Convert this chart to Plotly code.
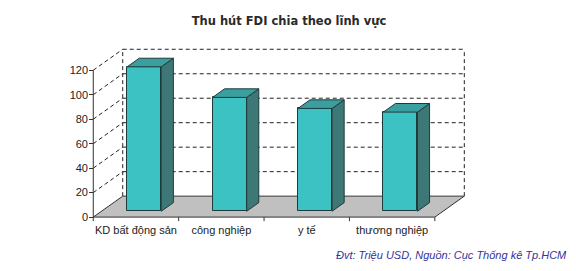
import plotly.graph_objects as go

# ---- data ----
categories = ["KD bất động sản", "công nghiệp", "y tế", "thương nghiệp"]
values = [118, 93, 84, 81]
y_ticks = [0, 20, 40, 60, 80, 100, 120]
title_text = "Thu hút FDI chia theo lĩnh vực"
source_text = "Đvt: Triệu USD, Nguồn: Cục Thống kê Tp.HCM"

# ---- geometry (pixel calibration of the axes) ----
W, H = 576, 271
PX_X0, SX = 93.0, 85.5      # px of x=0, px per category
PX_Y0, SY = 217.0, 1.225    # px of y=0, px per unit
XR = [-0.05, 4.4]
YR = [-4, 139]
DX = 29.5 / SX              # depth offset in x units
DY = 21.0 / SY              # depth offset in y units
YMAX = 120
BAR_F = 0.28                # depth position of bar front face
BAR_D = 0.41                # bar depth fraction
BAR_W = 0.4

ml = PX_X0 + XR[0] * SX
mr = W - (PX_X0 + XR[1] * SX)
mt = PX_Y0 - YR[1] * SY
mb = H - (PX_Y0 - YR[0] * SY)

FRONT = "#3DC2C4"
SIDE = "#3E7876"
TOP = "#3A9F9E"
EDGE = "#1E3B3B"
DASH = "4px,3px"
LINE = "#222222"

shapes = []
ncat = len(categories)

# back wall gridlines (dashed) + outline
for v in y_ticks[1:]:
    shapes.append(dict(type="line", x0=DX, x1=ncat + DX, y0=v + DY, y1=v + DY,
                       line=dict(color=LINE, width=1, dash=DASH), layer="below"))
    # left wall diagonals
    shapes.append(dict(type="line", x0=0, x1=DX, y0=v, y1=v + DY,
                       line=dict(color=LINE, width=1, dash=DASH), layer="below"))
shapes.append(dict(type="line", x0=DX, x1=DX, y0=DY, y1=YMAX + DY,
                   line=dict(color=LINE, width=1, dash=DASH), layer="below"))
shapes.append(dict(type="line", x0=ncat + DX, x1=ncat + DX, y0=DY, y1=YMAX + DY,
                   line=dict(color=LINE, width=1, dash=DASH), layer="below"))

# floor
shapes.append(dict(type="path",
                   path=f"M 0 0 L {ncat} 0 L {ncat + DX} {DY} L {DX} {DY} Z",
                   fillcolor="#C0C0C0", line=dict(color="#333333", width=1), layer="below"))
# front value axis line
shapes.append(dict(type="line", x0=0, x1=0, y0=0, y1=YMAX,
                   line=dict(color="#333333", width=1), layer="below"))
# category tick marks
for k in range(ncat + 1):
    shapes.append(dict(type="line", x0=k, x1=k, y0=0, y1=-3.3,
                       line=dict(color="#333333", width=1), layer="below"))

fig = go.Figure()

ox = BAR_F * DX
oy = BAR_F * DY
ddx = BAR_D * DX
ddy = BAR_D * DY
centers = [i + 0.5 + ox for i in range(ncat)]

fig.add_trace(go.Bar(x=centers, y=values, base=oy, width=BAR_W,
                     marker=dict(color=FRONT, line=dict(color=EDGE, width=1)),
                     hoverinfo="skip", showlegend=False))

for c, v in zip(centers, values):
    xl, xr = c - BAR_W / 2, c + BAR_W / 2
    yb, yt = oy, oy + v
    fig.add_trace(go.Scatter(
        x=[xr, xr + ddx, xr + ddx, xr, xr],
        y=[yb, yb + ddy, yt + ddy, yt, yb],
        fill="toself", fillcolor=SIDE, mode="lines",
        line=dict(color=EDGE, width=1), hoverinfo="skip", showlegend=False))
    fig.add_trace(go.Scatter(
        x=[xl, xl + ddx, xr + ddx, xr, xl],
        y=[yt, yt + ddy, yt + ddy, yt, yt],
        fill="toself", fillcolor=TOP, mode="lines",
        line=dict(color=EDGE, width=1), hoverinfo="skip", showlegend=False))

plot_w = W - ml - mr
plot_h = H - mt - mb

fig.update_layout(
    width=W, height=H,
    margin=dict(l=ml, r=mr, t=mt, b=mb, pad=0),
    paper_bgcolor="white", plot_bgcolor="white",
    shapes=shapes,
    font=dict(family="Liberation Sans, Arial, sans-serif", size=11, color="#222222"),
    title=dict(text=title_text, x=289 / W, xanchor="center",
               y=1 - 21 / H, yanchor="middle", yref="container",
               font=dict(family="DejaVu Sans, sans-serif", size=11.5,
                         color="#2A2A2A", weight="bold")),
    xaxis=dict(range=XR, tickvals=[i + 0.5 for i in range(ncat)], ticktext=categories,
               ticks="", showgrid=False, zeroline=False, showline=False, fixedrange=True,
               tickfont=dict(size=11)),
    yaxis=dict(range=YR, tickvals=y_ticks, ticks="inside", ticklen=4,
               tickcolor="#333333", showgrid=False, zeroline=False, showline=False,
               tickfont=dict(size=11)),
    bargap=0,
    annotations=[dict(text=source_text, xref="paper", yref="paper",
                      x=(569 - ml) / plot_w, y=(H - mb - 255) / plot_h,
                      xanchor="right", yanchor="middle", showarrow=False,
                      font=dict(family="Liberation Sans, Arial, sans-serif", size=11,
                                color="#333399", style="italic"))],
)

fig.write_html("out.html")
